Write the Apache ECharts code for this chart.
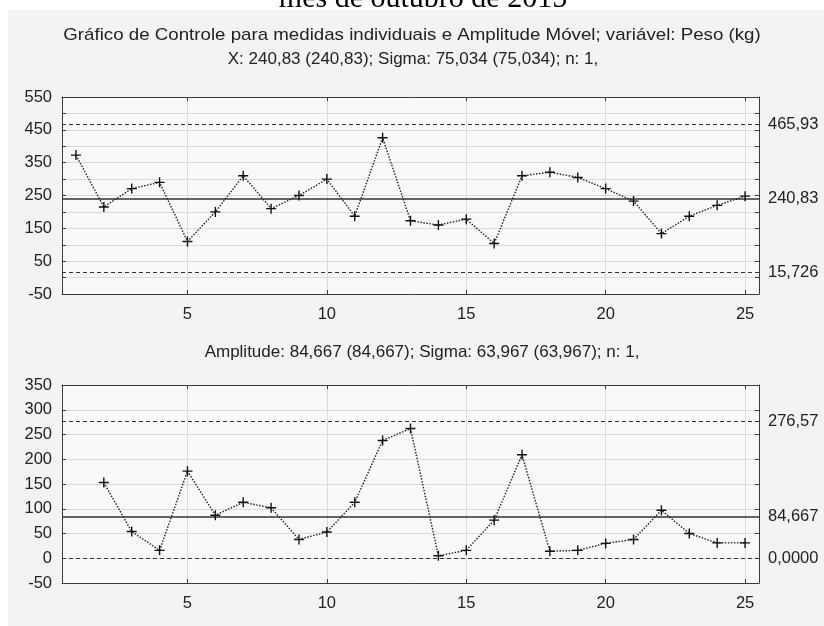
<!DOCTYPE html>
<html>
<head>
<meta charset="utf-8">
<script src="https://cdn.jsdelivr.net/npm/echarts@6/dist/echarts.min.js"></script>
<style>
  html, body { margin: 0; padding: 0; background: #ffffff; }
  #panel { position: absolute; left: 8px; top: 10px; right: 0; bottom: 0; background: #f3f3f3; }
  #chart { position: absolute; left: 0; top: 0; width: 824px; height: 626px; }
</style>
</head>
<body>
<div id="panel"></div>
<div id="chart"></div>
<script>
// ---- data ----
const obs = [1,2,3,4,5,6,7,8,9,10,11,12,13,14,15,16,17,18,19,20,21,22,23,24,25];
const peso = [373,215,271,290,110,200,310,210,250,300,187,426,173,160,178,104,310,321,305,271,233,134,187,220,248];
const amplitude = [null,153,54,16,176,87,113,102,38,53,113,238,262,5,16,77,209,14,16,30,38,97,50,31,31];

const xLimitValues = [465.93, 240.83, 15.726];
const xLimitLabels = ['465,93', '240,83', '15,726'];
const ampLimitValues = [276.57, 84.667, 0];
const ampLimitLabels = ['276,57', '84,667', '0,0000'];

const xTicks = [5, 10, 15, 20, 25];
const yLabelsTop = [550, 450, 350, 250, 150, 50, -50];
const yLabelsBottom = [350, 300, 250, 200, 150, 100, 50, 0, -50];

const topText = 'mês de outubro de 2015';
const title1 = 'Gráfico de Controle para medidas individuais e Amplitude Móvel; variável: Peso (kg)';
const title2 = 'X: 240,83 (240,83); Sigma: 75,034 (75,034); n: 1,';
const title3 = 'Amplitude: 84,667 (84,667); Sigma: 63,967 (63,967); n: 1,';

// ---- styles ----
const FONT = 'Liberation Sans';
const TXT = '#222222';
const FRAME = '#3a3a3a';
const GRIDC = '#dadada';
const plusPath = 'path://M4,0h1.3v4h4v1.3h-4v4h-1.3v-4h-4v-1.3h4z';

function limitLines(values, labels) {
  return values.map((v, i) => ({
    yAxis: v,
    lineStyle: i === 1
      ? { type: 'solid', width: 1.6, color: '#333333' }
      : { type: [4, 3], width: 1, color: '#333333' },
    label: { show: true, position: 'end', formatter: labels[i], distance: 9,
             color: TXT, fontSize: 16.5, fontFamily: FONT }
  }));
}

function xAxisPair(gridIndex) {
  return [
    { type: 'value', gridIndex, min: 0.5, max: 25.5, position: 'bottom',
      axisLine: { show: true, onZero: false, lineStyle: { color: FRAME, width: 1 } },
      axisTick: { show: true, inside: true, length: 4, customValues: xTicks, lineStyle: { color: FRAME } },
      axisLabel: { customValues: xTicks, margin: 12, color: TXT, fontSize: 16.5, fontFamily: FONT },
      splitLine: { show: true, lineStyle: { color: GRIDC, width: 1 } } },
    { type: 'value', gridIndex, min: 0.5, max: 25.5, position: 'top',
      axisLine: { show: true, onZero: false, lineStyle: { color: FRAME, width: 1 } },
      axisTick: { show: true, inside: true, length: 4, customValues: xTicks, lineStyle: { color: FRAME } },
      axisLabel: { show: false }, splitLine: { show: false } }
  ];
}

function yAxisPair(gridIndex, min, max, labels) {
  return [
    { type: 'value', gridIndex, min, max, interval: 50, position: 'left',
      axisLine: { show: true, onZero: false, lineStyle: { color: FRAME, width: 1 } },
      axisTick: { show: true, inside: true, length: 4, lineStyle: { color: FRAME } },
      axisLabel: { margin: 10, color: TXT, fontSize: 16.5, fontFamily: FONT,
                   formatter: v => labels.indexOf(v) >= 0 ? String(v) : '' },
      splitLine: { show: true, lineStyle: { color: GRIDC, width: 1 } } },
    { type: 'value', gridIndex, min, max, interval: 50, position: 'right',
      axisLine: { show: true, onZero: false, lineStyle: { color: FRAME, width: 1 } },
      axisTick: { show: true, inside: true, length: 4, lineStyle: { color: FRAME } },
      axisLabel: { show: false }, splitLine: { show: false } }
  ];
}

function lineSeries(xAxisIndex, yAxisIndex, values, limVals, limLabels) {
  return {
    type: 'line', xAxisIndex, yAxisIndex,
    data: values.map((v, i) => [obs[i], v]).filter(d => d[1] !== null),
    symbol: plusPath, symbolSize: 10, showAllSymbol: true,
    itemStyle: { color: '#111111' },
    lineStyle: { type: [1.5, 1.5], width: 1.4, color: '#222222' },
    z: 5,
    markLine: { silent: true, symbol: 'none', animation: false, data: limitLines(limVals, limLabels) }
  };
}

const chart = echarts.init(document.getElementById('chart'), null, { renderer: 'canvas' });
chart.setOption({
  backgroundColor: 'transparent',
  animation: false,
  grid: [
    { left: 62, top: 97, width: 697, height: 197, show: true, backgroundColor: '#f9f9f9', borderWidth: 0 },
    { left: 62, top: 385, width: 697, height: 198, show: true, backgroundColor: '#f9f9f9', borderWidth: 0 }
  ],
  xAxis: [...xAxisPair(0), ...xAxisPair(1)],
  yAxis: [...yAxisPair(0, -50, 550, yLabelsTop), ...yAxisPair(1, -50, 350, yLabelsBottom)],
  series: [
    lineSeries(0, 0, peso, xLimitValues, xLimitLabels),
    lineSeries(2, 2, amplitude, ampLimitValues, ampLimitLabels)
  ],
  graphic: [
    { type: 'text', x: 423, y: -1, silent: true,
      style: { text: topText, font: '30px "Liberation Serif"', fill: '#000', align: 'center', verticalAlign: 'middle' } },
    { type: 'text', x: 412, y: 35, scaleX: 1.1, silent: true,
      style: { text: title1, font: '17px "Liberation Sans"', fill: TXT, align: 'center', verticalAlign: 'middle' } },
    { type: 'text', x: 413, y: 59, silent: true,
      style: { text: title2, font: '17px "Liberation Sans"', fill: TXT, align: 'center', verticalAlign: 'middle' } },
    { type: 'text', x: 422, y: 352, silent: true,
      style: { text: title3, font: '17px "Liberation Sans"', fill: TXT, align: 'center', verticalAlign: 'middle' } }
  ]
});
</script>
</body>
</html>
